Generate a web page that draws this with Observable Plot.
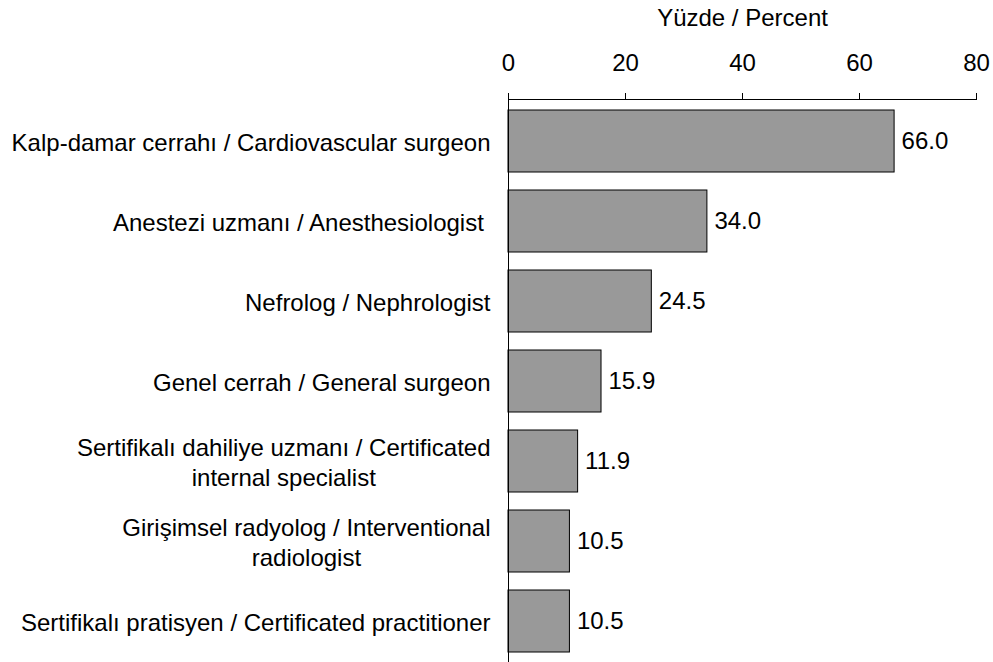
<!DOCTYPE html>
<html>
<head>
<meta charset="utf-8">
<script src="https://cdn.jsdelivr.net/npm/d3@7"></script>
<script src="https://cdn.jsdelivr.net/npm/@observablehq/plot@0.6"></script>
<style>
  html, body { margin: 0; padding: 0; background: #fff; }
  #chart svg { display: block; }
</style>
</head>
<body>
<div id="chart"></div>
<script>
const categories = [
  "Kalp-damar cerrahı / Cardiovascular surgeon",
  "Anestezi uzmanı / Anesthesiologist\u00a0",
  "Nefrolog / Nephrologist",
  "Genel cerrah / General surgeon",
  "Sertifikalı dahiliye uzmanı / Certificated\ninternal specialist",
  "Girişimsel radyolog / Interventional\nradiologist",
  "Sertifikalı pratisyen / Certificated practitioner"
];
const values = [66.0, 34.0, 24.5, 15.9, 11.9, 10.5, 10.5];
const xTicks = [0, 20, 40, 60, 80];
const axisTitle = "Yüzde / Percent";

const data = categories.map((c, i) => ({category: c, value: values[i]}));

const chart = Plot.plot({
  width: 993,
  height: 662,
  marginLeft: 508,
  marginRight: 17,
  marginTop: 99,
  marginBottom: 0,
  style: {fontFamily: "'Liberation Sans', Arial, sans-serif", fontSize: "24px", color: "#000", background: "#fff"},
  x: {domain: [0, 80], axis: null},
  y: {domain: categories, paddingInner: 0.23, paddingOuter: 0.112, axis: null},
  marks: [
    Plot.barX(data, {x: "value", y: "category", fill: "#999999", stroke: "#000", strokeWidth: 1}),
    Plot.text(data, {x: "value", y: "category", text: d => d.value.toFixed(1), textAnchor: "start", dx: 7, fill: "#000", fontSize: 24}),
    Plot.axisX({anchor: "top", ticks: xTicks, tickSize: 7, tickPadding: 22, tickFormat: d => String(d), fontSize: 24,
      label: axisTitle, labelAnchor: "center", labelArrow: "none", labelOffset: 91}),
    Plot.axisY({anchor: "left", tickSize: 0, tickPadding: 18, fontSize: 24, lineHeight: 1.25, label: null, textOverflow: null}),
    Plot.frame({anchor: "top"}),
    Plot.frame({anchor: "left"})
  ]
});
document.getElementById("chart").appendChild(chart);

// Center the lines of multi-line category labels within their right-aligned block
function centerLines() {
  chart.querySelectorAll("text").forEach(t => {
    const spans = Array.from(t.children).filter(s => s.tagName.toLowerCase() === "tspan");
    if (spans.length < 2) return;
    const widths = spans.map(s => s.getComputedTextLength());
    const W = Math.max(...widths);
    spans.forEach((s, i) => s.setAttribute("x", String(-(W - widths[i]) / 2)));
  });
}
centerLines();
</script>
</body>
</html>
